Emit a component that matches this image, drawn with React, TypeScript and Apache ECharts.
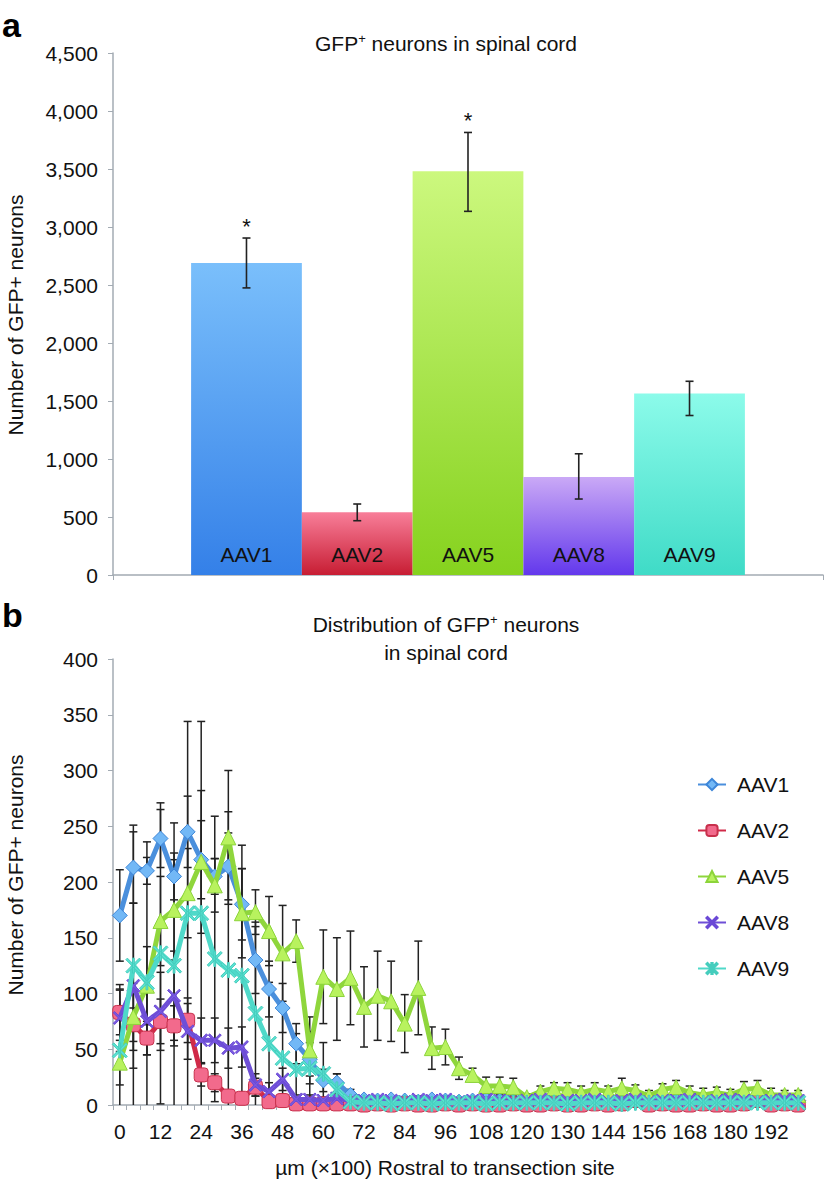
import React, { useEffect, useRef } from "react";
import * as echarts from "echarts";

const FONT = '"Liberation Sans", Arial, Helvetica, sans-serif';

// ---------- Panel a ----------
const barCategories = ["AAV1", "AAV2", "AAV5", "AAV8", "AAV9"];
const barValues = [2690, 540, 3480, 845, 1565];
const barErrUp = [215, 72, 335, 200, 105];
const barErrDown = [215, 72, 345, 190, 190];
const barSignificant = [true, false, true, false, false];
const barColorsTop = ["#7abffb", "#f87e99", "#ccf87e", "#caa9f6", "#8cfbea"];
const barColorsBottom = ["#3480e8", "#c71d33", "#86d21e", "#6338ec", "#3fdbc7"];
const barTicks = [0, 4500, 500];

// ---------- Panel b ----------
const distCategories = [
  "0", "4", "8", "12", "16", "20", "24", "28", "32", "36", "40", "44", "48",
  "52", "56", "60", "64", "68", "72", "76", "80", "84", "88", "92", "96",
  "100", "104", "108", "112", "116", "120", "124", "128", "130", "136", "140",
  "144", "148", "152", "156", "160", "164", "168", "172", "176", "180", "184",
  "188", "192", "196", "200",
];
const lineNames = ["AAV1", "AAV2", "AAV5", "AAV8", "AAV9"];
const aav1 = [170, 213, 210, 239, 205, 245, 220, 205, 214, 180, 130, 104, 87, 55, 41, 22, 20, 9, 5, 4, 5, 4, 3, 5, 4, 3, 4, 5, 4, 3, 4, 3, 4, 5, 3, 4, 5, 4, 3, 4, 3, 4, 5, 4, 3, 4, 6, 5, 4, 3, 4];
const aav2 = [83, 72, 60, 75, 71, 76, 27, 20, 8, 6, 16, 3, 4, 1, 1, 1, 1, 1, 0, 1, 0, 1, 0, 0, 1, 0, 1, 0, 0, 1, 0, 0, 1, 0, 0, 1, 0, 1, 4, 0, 1, 0, 0, 1, 0, 0, 1, 4, 0, 1, 0];
const aav5 = [38, 79, 107, 165, 175, 190, 218, 197, 240, 172, 173, 156, 136, 147, 49, 115, 104, 114, 88, 98, 93, 73, 105, 51, 52, 33, 27, 17, 17, 16, 7, 12, 15, 14, 11, 14, 12, 15, 13, 8, 14, 16, 11, 9, 11, 9, 14, 15, 9, 9, 9];
const aav8 = [78, 107, 75, 84, 98, 66, 58, 58, 51, 52, 18, 12, 23, 5, 5, 4, 6, 4, 4, 5, 4, 3, 5, 4, 5, 3, 4, 5, 4, 3, 4, 5, 3, 4, 4, 5, 3, 4, 5, 3, 4, 4, 5, 3, 4, 5, 4, 3, 4, 5, 4];
const aav9 = [49, 125, 110, 136, 125, 172, 172, 131, 121, 116, 82, 55, 42, 32, 33, 28, 14, 3, 2, 2, 1, 2, 2, 1, 2, 2, 2, 1, 2, 2, 2, 2, 2, 1, 2, 2, 2, 1, 2, 2, 2, 2, 2, 2, 2, 2, 2, 2, 2, 2, 2];
const err1 = [41, 32, 12, 26, 21, 32, 35, 16, 30, 32, 30, 25, 22, 18, 15, 10, 8, 5, 3, 3, 3, 2, 2, 3, 3, 2, 2, 3, 2, 2, 3, 2, 2, 3, 2, 2, 3, 2, 2, 3, 2, 2, 3, 2, 2, 3, 3, 2, 2, 3, 2];
const err2 = [20, 15, 15, 20, 18, 20, 10, 8, 5, 4, 8, 2, 2, 1, 1, 1, 1, 1, 1, 1, 1, 1, 1, 1, 1, 1, 1, 1, 1, 1, 1, 1, 1, 1, 1, 1, 1, 1, 2, 1, 1, 1, 1, 1, 1, 1, 1, 2, 1, 1, 1];
const err5 = [20, 30, 35, 40, 45, 40, 64, 24, 60, 40, 20, 31, 43, 19, 30, 42, 46, 42, 36, 40, 36, 26, 42, 19, 16, 10, 6, 8, 8, 8, 3, 5, 5, 6, 6, 6, 5, 9, 5, 5, 5, 6, 6, 6, 5, 5, 7, 7, 6, 4, 4];
const err8 = [30, 74, 30, 35, 40, 25, 20, 20, 18, 18, 10, 8, 10, 4, 4, 3, 4, 3, 3, 3, 3, 2, 3, 3, 3, 2, 3, 3, 3, 2, 3, 3, 2, 3, 3, 3, 2, 3, 3, 2, 3, 3, 3, 2, 3, 3, 3, 2, 3, 3, 3];
const err9 = [55, 126, 126, 135, 128, 172, 172, 128, 142, 117, 82, 55, 42, 32, 33, 28, 14, 3, 2, 2, 1, 2, 2, 1, 2, 2, 2, 1, 2, 2, 2, 2, 2, 1, 2, 2, 2, 1, 2, 2, 2, 2, 2, 2, 2, 2, 2, 2, 2, 2, 2];
const distTicks = [0, 400, 50];

const lineValues = [aav1, aav2, aav5, aav8, aav9];
const lineErrors = [err1, err2, err5, err8, err9];
const lineColors = ["#4a8fdc", "#d02a48", "#8fd63c", "#6e4fd6", "#4fd9c9"];
const markerFill = ["#72b8f6", "#f26a8c", "#b8f25e", "#7a5ae0", "#5ce2d2"];
const markerBorder = ["#3d86d8", "#c8304c", "#8cd43a", "#6a48d6", "#45cdbd"];
const X_PATH =
  "path://M1,0 L5,4 L9,0 L10,1 L6,5 L10,9 L9,10 L5,6 L1,10 L0,9 L4,5 L0,1 Z";
const AST_PATH =
  "path://M1,0 L5,4 L9,0 L10,1 L6,5 L10,9 L9,10 L5,6 L1,10 L0,9 L4,5 L0,1 Z M4.4,0 L5.6,0 L5.6,10 L4.4,10 Z";
const markerSymbols = ["diamond", "roundRect", "triangle", X_PATH, AST_PATH];
const markerSizes = [15, 14, 15, 13, 15];

const AXIS_GRAY = "#a3abb3";
const BAR_GAP = 0.22;
const FS = 21;

export default function App() {
  const ref = useRef<HTMLDivElement>(null);

  useEffect(() => {
    if (!ref.current) return;
    const chart = echarts.init(ref.current, undefined, { renderer: "svg" });

    const barSeries = barValues.map((v, i) => ({
      type: "bar",
      name: "bar-" + barCategories[i],
      xAxisIndex: 0,
      yAxisIndex: 0,
      data: [v],
      barGap: "0%",
      barCategoryGap: BAR_GAP * 100 + "%",
      itemStyle: {
        color: new echarts.graphic.LinearGradient(0, 0, 0, 1, [
          { offset: 0, color: barColorsTop[i] },
          { offset: 1, color: barColorsBottom[i] },
        ]),
      },
      label: {
        show: true,
        position: "insideBottom",
        distance: 10,
        formatter: () => barCategories[i],
        fontFamily: FONT,
        fontSize: FS,
        color: "#111",
      },
      z: 2,
    }));

    const barErrSeries = {
      type: "custom",
      name: "bar-errors",
      xAxisIndex: 0,
      yAxisIndex: 0,
      z: 5,
      data: barValues.map((v, i) => [0, v, barErrUp[i], barErrDown[i], i, barSignificant[i] ? 1 : 0]),
      renderItem: (params: any, api: any) => {
        const v = api.value(1);
        const up = api.value(2);
        const dn = api.value(3);
        const idx = api.value(4);
        const sig = api.value(5);
        const cs = params.coordSys;
        const bw = (cs.width * (1 - BAR_GAP)) / barValues.length;
        const center = cs.x + cs.width / 2;
        const x = center + (idx - (barValues.length - 1) / 2) * bw;
        const top = api.coord([0, v + up])[1];
        const bot = api.coord([0, v - dn])[1];
        const st = { stroke: "#222", lineWidth: 1.6 };
        const children: any[] = [
          { type: "line", shape: { x1: x, y1: top, x2: x, y2: bot }, style: st },
          { type: "line", shape: { x1: x - 4, y1: top, x2: x + 4, y2: top }, style: st },
          { type: "line", shape: { x1: x - 4, y1: bot, x2: x + 4, y2: bot }, style: st },
        ];
        if (sig) {
          children.push({
            type: "text",
            style: {
              text: "*",
              x,
              y: top - 12,
              align: "center",
              verticalAlign: "middle",
              fontFamily: FONT,
              fontSize: 22,
              fill: "#111",
            },
          });
        }
        return { type: "group", children };
      },
    };

    const lineErrSeries = lineValues.map((vals, s) => ({
      type: "custom",
      name: "err-" + lineNames[s],
      xAxisIndex: 1,
      yAxisIndex: 1,
      z: 1,
      data: vals.map((v, i) => [i, v, lineErrors[s][i]]),
      renderItem: (params: any, api: any) => {
        const i = api.value(0);
        const v = api.value(1);
        const e = api.value(2);
        const p = api.coord([i, v + e]);
        const low = Math.max(0, v - e);
        const q = api.coord([i, low]);
        const st = { stroke: "#222", lineWidth: 1.5 };
        const children: any[] = [
          { type: "line", shape: { x1: p[0], y1: p[1], x2: q[0], y2: q[1] }, style: st },
          { type: "line", shape: { x1: p[0] - 4, y1: p[1], x2: p[0] + 4, y2: p[1] }, style: st },
        ];
        if (low > 0) {
          children.push({ type: "line", shape: { x1: q[0] - 4, y1: q[1], x2: q[0] + 4, y2: q[1] }, style: st });
        }
        return { type: "group", children };
      },
    }));

    const lineSeries = lineValues.map((vals, s) => ({
      type: "line",
      name: lineNames[s],
      xAxisIndex: 1,
      yAxisIndex: 1,
      data: vals,
      symbol: markerSymbols[s],
      symbolSize: markerSizes[s],
      showAllSymbol: true,
      lineStyle: { color: lineColors[s], width: 5 },
      itemStyle: { color: markerFill[s], borderColor: markerBorder[s], borderWidth: 1 },
      z: 3 + s,
    }));

    const axisLabelStyle = { fontFamily: FONT, fontSize: FS, color: "#111" };

    const makeText = (text: string, x: number, y: number, extra: any = {}) => ({
      type: "text",
      style: {
        text,
        x,
        y,
        align: "center",
        verticalAlign: "middle",
        fontFamily: FONT,
        fontSize: FS,
        fill: "#111",
        ...extra,
      },
    });

    const supRich = {
      n: { fontFamily: FONT, fontSize: FS },
      s: { fontFamily: FONT, fontSize: 13, padding: [0, 0, 10, 0] },
    };

    const option: any = {
      animation: false,
      textStyle: { fontFamily: FONT },
      grid: [
        { left: 113, top: 53, width: 710, height: 522 },
        { left: 113, top: 659, width: 692, height: 446 },
      ],
      xAxis: [
        {
          type: "category",
          gridIndex: 0,
          data: [""],
          axisLine: { lineStyle: { color: AXIS_GRAY, width: 1.5 } },
          axisTick: { show: true, length: 5, lineStyle: { color: AXIS_GRAY } },
          axisLabel: { show: false },
          splitLine: { show: false },
        },
        {
          type: "category",
          gridIndex: 1,
          data: distCategories,
          boundaryGap: true,
          axisLine: { lineStyle: { color: AXIS_GRAY, width: 1.5 } },
          axisTick: { show: true, interval: 0, length: 5, lineStyle: { color: AXIS_GRAY } },
          axisLabel: { ...axisLabelStyle, interval: 2, margin: 16 },
          splitLine: { show: false },
        },
      ],
      yAxis: [
        {
          type: "value",
          gridIndex: 0,
          min: barTicks[0],
          max: barTicks[1],
          interval: barTicks[2],
          axisLine: { show: true, lineStyle: { color: AXIS_GRAY, width: 1.5 } },
          axisTick: { show: true, length: 5, lineStyle: { color: AXIS_GRAY } },
          axisLabel: {
            ...axisLabelStyle,
            margin: 15,
            formatter: (v: number) => v.toLocaleString("en-US"),
          },
          splitLine: { show: false },
        },
        {
          type: "value",
          gridIndex: 1,
          min: distTicks[0],
          max: distTicks[1],
          interval: distTicks[2],
          axisLine: { show: true, lineStyle: { color: AXIS_GRAY, width: 1.5 } },
          axisTick: { show: true, length: 5, lineStyle: { color: AXIS_GRAY } },
          axisLabel: { ...axisLabelStyle, margin: 15 },
          splitLine: { show: false },
        },
      ],
      legend: {
        data: lineNames,
        orient: "vertical",
        left: 692,
        top: 769,
        itemWidth: 28,
        itemHeight: 14,
        itemGap: 25,
        textStyle: { fontFamily: FONT, fontSize: FS, color: "#111", padding: [0, 0, 0, 6] },
        selectedMode: false,
      },
      graphic: [
        {
          type: "text",
          style: { text: "a", x: 2, y: 8, fontFamily: FONT, fontSize: 34, fontWeight: "bold", fill: "#000" },
        },
        {
          type: "text",
          style: { text: "b", x: 2, y: 598, fontFamily: FONT, fontSize: 34, fontWeight: "bold", fill: "#000" },
        },
        {
          type: "text",
          style: {
            text: "{n|GFP}{s|+}{n| neurons in spinal cord}",
            x: 446,
            y: 43,
            align: "center",
            verticalAlign: "middle",
            fill: "#111",
            rich: supRich,
          },
        },
        {
          type: "text",
          style: {
            text: "{n|Distribution of GFP}{s|+}{n| neurons}",
            x: 446,
            y: 624,
            align: "center",
            verticalAlign: "middle",
            fill: "#111",
            rich: supRich,
          },
        },
        makeText("in spinal cord", 446, 652),
        {
          type: "text",
          rotation: Math.PI / 2,
          x: 15,
          y: 315,
          style: {
            text: "Number of GFP+ neurons",
            x: 0,
            y: 0,
            align: "center",
            verticalAlign: "middle",
            fontFamily: FONT,
            fontSize: FS,
            fill: "#111",
          },
        },
        {
          type: "text",
          rotation: Math.PI / 2,
          x: 15,
          y: 875,
          style: {
            text: "Number of GFP+ neurons",
            x: 0,
            y: 0,
            align: "center",
            verticalAlign: "middle",
            fontFamily: FONT,
            fontSize: FS,
            fill: "#111",
          },
        },
        makeText("µm (×100) Rostral to transection site", 445, 1167),
      ],
      series: [...barSeries, barErrSeries, ...lineErrSeries, ...lineSeries],
    };

    chart.setOption(option);
    return () => chart.dispose();
  }, []);

  return (
    <div
      ref={ref}
      style={{ position: "absolute", left: 0, top: 0, width: 826, height: 1179, background: "#fff" }}
    />
  );
}
